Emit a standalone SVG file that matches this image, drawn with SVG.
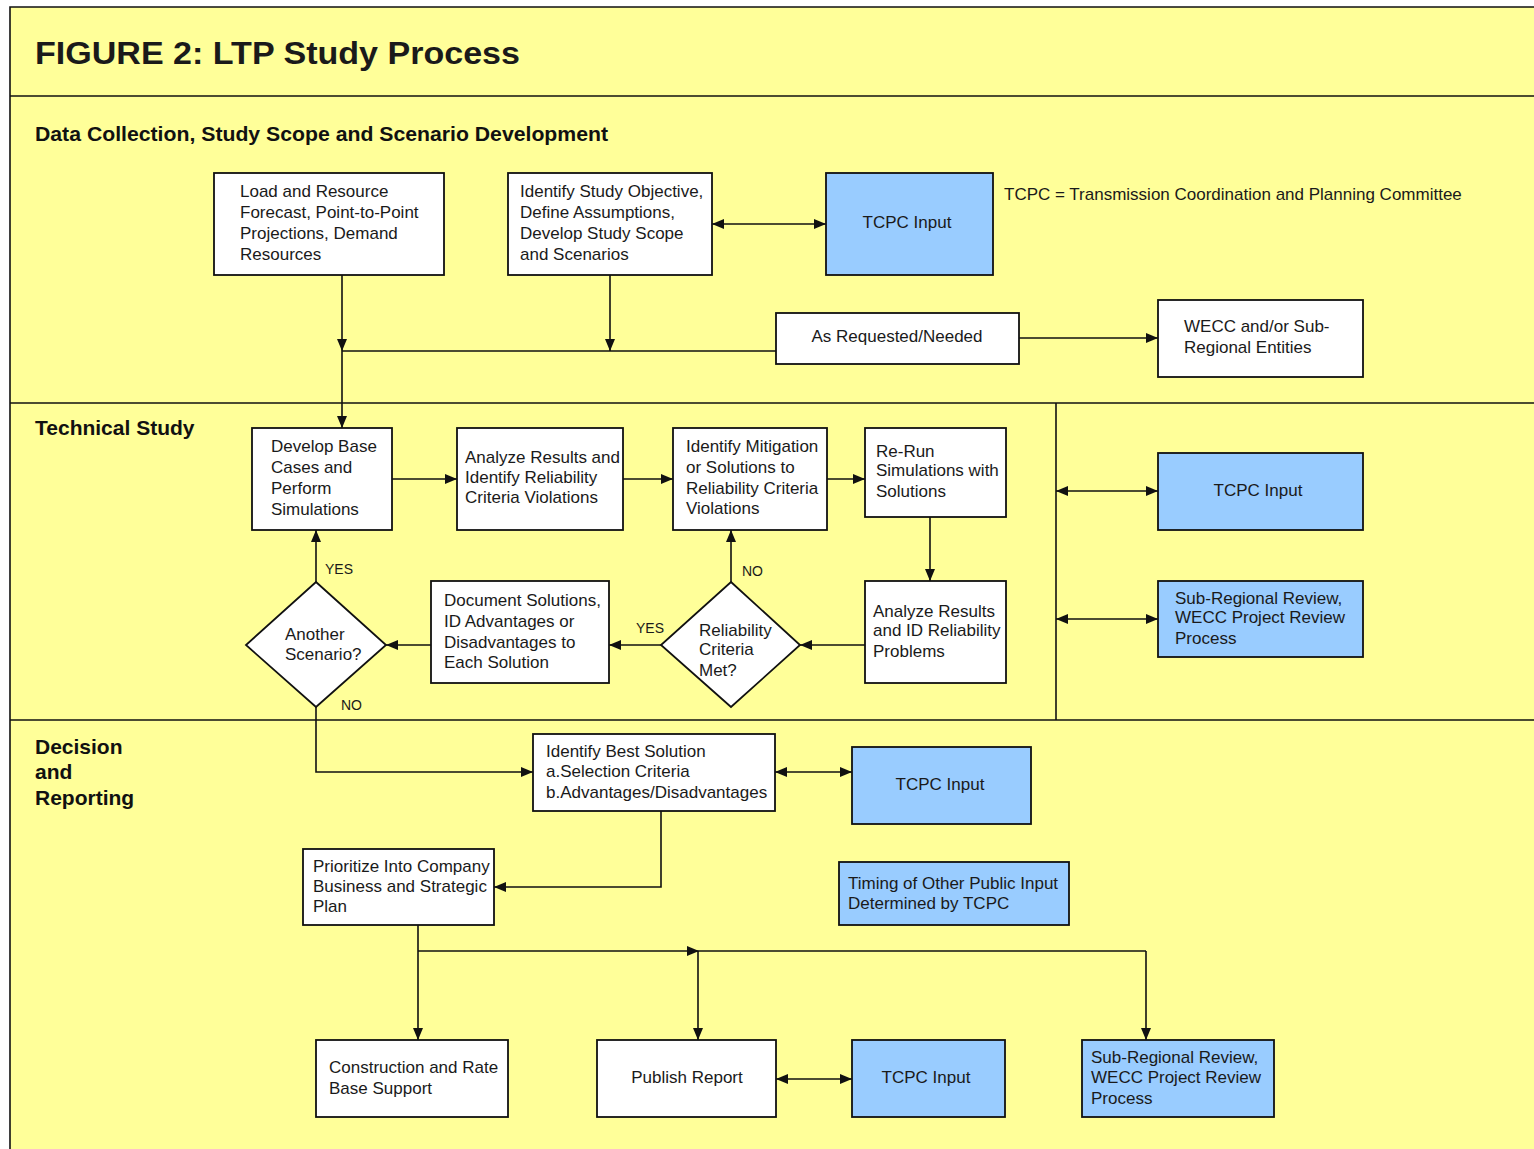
<svg xmlns="http://www.w3.org/2000/svg" width="1534" height="1149" viewBox="0 0 1534 1149">
<style>
  text { font-family: "Liberation Sans", Arial, sans-serif; fill: #1a1a1a; }
  .t { font-size: 17px; }
  .tc { font-size: 17px; text-anchor: middle; }
  .h { font-size: 21px; font-weight: bold; fill: #111; }
  .lab { font-size: 14px; }
  .box { fill: #ffffff; stroke: #111; stroke-width: 1.8; }
  .blue { fill: #99ccff; stroke: #111; stroke-width: 1.8; }
  .frame { fill: none; stroke: #111; stroke-width: 1.6; }
  .c { fill: none; stroke: #111; stroke-width: 1.6; }
  .a { marker-end: url(#arr); }
  .d { marker-start: url(#arr); marker-end: url(#arr); }
</style>
<defs>
  <marker id="arr" viewBox="0 0 12 10" refX="12" refY="5" markerWidth="12" markerHeight="10" markerUnits="userSpaceOnUse" orient="auto-start-reverse">
    <path d="M0,0 L12,5 L0,10 z" fill="#111"/>
  </marker>
</defs>
<rect x="0" y="0" width="1534" height="1149" fill="#ffffff"/>
<rect x="10" y="7" width="1530" height="1150" fill="#ffff99"/>
<g id="frame">
  <path class="frame" d="M10,1149 V7 H1534"/>
  <line class="frame" x1="10" y1="96" x2="1534" y2="96"/>
  <line class="frame" x1="10" y1="403" x2="1534" y2="403"/>
  <line class="frame" x1="10" y1="720" x2="1534" y2="720"/>
  <line class="frame" x1="1056" y1="403" x2="1056" y2="720"/>
</g>
<g id="headings">
  <text x="35" y="64" font-size="31" font-weight="bold" fill="#111" textLength="485" lengthAdjust="spacingAndGlyphs">FIGURE 2: LTP Study Process</text>
  <text class="h" x="35" y="141" textLength="573" lengthAdjust="spacingAndGlyphs">Data Collection, Study Scope and Scenario Development</text>
  <text class="h" x="35" y="435">Technical Study</text>
  <text class="h" x="35" y="754">Decision</text>
  <text class="h" x="35" y="779">and</text>
  <text class="h" x="35" y="805">Reporting</text>
  <text class="t" x="1004" y="200">TCPC = Transmission Coordination and Planning Committee</text>
</g>
<g id="connectors">
  <path class="c a" d="M342,275 V351"/>
  <path class="c a" d="M342,351 V428"/>
  <path class="c a" d="M610,275 V351"/>
  <path class="c" d="M342,351 H776"/>
  <path class="c d" d="M712,224 H826"/>
  <path class="c a" d="M1019,338 H1158"/>
  <path class="c a" d="M392,479 H457"/>
  <path class="c a" d="M623,479 H673"/>
  <path class="c a" d="M827,479 H865"/>
  <path class="c a" d="M930,517 V581"/>
  <path class="c a" d="M865,645 H800"/>
  <path class="c a" d="M661,645 H609"/>
  <path class="c a" d="M731,582 V530"/>
  <path class="c a" d="M431,645 H386"/>
  <path class="c a" d="M316,582 V530"/>
  <path class="c a" d="M316,707 V772 H533"/>
  <path class="c d" d="M1056,491 H1158"/>
  <path class="c d" d="M1056,619 H1158"/>
  <path class="c d" d="M775,772 H852"/>
  <path class="c a" d="M661,811 V887 H494"/>
  <path class="c a" d="M418,925 V1040"/>
  <path class="c" d="M418,951 H1146"/>
  <polygon points="687,946 699,951 687,956" fill="#111"/>
  <path class="c a" d="M698,951 V1040"/>
  <path class="c a" d="M1146,951 V1040"/>
  <path class="c d" d="M776,1079 H852"/>
  <text class="lab" x="325" y="574">YES</text>
  <text class="lab" x="742" y="576">NO</text>
  <text class="lab" x="636" y="633">YES</text>
  <text class="lab" x="341" y="710">NO</text>
</g>
<g id="n-load">
  <rect class="box" x="214" y="173" width="230" height="102"/>
  <text class="t" x="240" y="197">Load and Resource</text>
  <text class="t" x="240" y="218">Forecast, Point-to-Point</text>
  <text class="t" x="240" y="239">Projections, Demand</text>
  <text class="t" x="240" y="260">Resources</text>
</g>
<g id="n-objective">
  <rect class="box" x="508" y="173" width="204" height="102"/>
  <text class="t" x="520" y="197">Identify Study Objective,</text>
  <text class="t" x="520" y="218">Define Assumptions,</text>
  <text class="t" x="520" y="239">Develop Study Scope</text>
  <text class="t" x="520" y="260">and Scenarios</text>
</g>
<g id="n-tcpc1">
  <rect class="blue" x="826" y="173" width="167" height="102"/>
  <text class="tc" x="907" y="228">TCPC Input</text>
</g>
<g id="n-requested">
  <rect class="box" x="776" y="313" width="243" height="51"/>
  <text class="tc" x="897" y="342">As Requested/Needed</text>
</g>
<g id="n-wecc">
  <rect class="box" x="1158" y="300" width="205" height="77"/>
  <text class="t" x="1184" y="332">WECC and/or Sub-</text>
  <text class="t" x="1184" y="353">Regional Entities</text>
</g>
<g id="n-base">
  <rect class="box" x="252" y="428" width="140" height="102"/>
  <text class="t" x="271" y="452">Develop Base</text>
  <text class="t" x="271" y="473">Cases and</text>
  <text class="t" x="271" y="494">Perform</text>
  <text class="t" x="271" y="515">Simulations</text>
</g>
<g id="n-analyze1">
  <rect class="box" x="457" y="428" width="166" height="102"/>
  <text class="t" x="465" y="463">Analyze Results and</text>
  <text class="t" x="465" y="483">Identify Reliability</text>
  <text class="t" x="465" y="503">Criteria Violations</text>
</g>
<g id="n-mitigation">
  <rect class="box" x="673" y="428" width="154" height="102"/>
  <text class="t" x="686" y="452">Identify Mitigation</text>
  <text class="t" x="686" y="473">or Solutions to</text>
  <text class="t" x="686" y="494">Reliability Criteria</text>
  <text class="t" x="686" y="514">Violations</text>
</g>
<g id="n-rerun">
  <rect class="box" x="865" y="428" width="141" height="89"/>
  <text class="t" x="876" y="457">Re-Run</text>
  <text class="t" x="876" y="476">Simulations with</text>
  <text class="t" x="876" y="497">Solutions</text>
</g>
<g id="n-analyze2">
  <rect class="box" x="865" y="581" width="141" height="102"/>
  <text class="t" x="873" y="617">Analyze Results</text>
  <text class="t" x="873" y="636">and ID Reliability</text>
  <text class="t" x="873" y="657">Problems</text>
</g>
<g id="n-met">
  <polygon class="box" points="731,582 800,645 731,707 661,645"/>
  <text class="t" x="699" y="636">Reliability</text>
  <text class="t" x="699" y="655">Criteria</text>
  <text class="t" x="699" y="676">Met?</text>
</g>
<g id="n-document">
  <rect class="box" x="431" y="581" width="178" height="102"/>
  <text class="t" x="444" y="606">Document Solutions,</text>
  <text class="t" x="444" y="627">ID Advantages or</text>
  <text class="t" x="444" y="648">Disadvantages to</text>
  <text class="t" x="444" y="668">Each Solution</text>
</g>
<g id="n-another">
  <polygon class="box" points="316,582 386,645 316,707 246,645"/>
  <text class="t" x="285" y="640">Another</text>
  <text class="t" x="285" y="660">Scenario?</text>
</g>
<g id="n-tcpc2">
  <rect class="blue" x="1158" y="453" width="205" height="77"/>
  <text class="tc" x="1258" y="496">TCPC Input</text>
</g>
<g id="n-subreg1">
  <rect class="blue" x="1158" y="581" width="205" height="76"/>
  <text class="t" x="1175" y="604">Sub-Regional Review,</text>
  <text class="t" x="1175" y="623">WECC Project Review</text>
  <text class="t" x="1175" y="644">Process</text>
</g>
<g id="n-best">
  <rect class="box" x="533" y="734" width="242" height="77"/>
  <text class="t" x="546" y="757">Identify Best Solution</text>
  <text class="t" x="546" y="777">a.Selection Criteria</text>
  <text class="t" x="546" y="798">b.Advantages/Disadvantages</text>
</g>
<g id="n-tcpc3">
  <rect class="blue" x="852" y="747" width="179" height="77"/>
  <text class="tc" x="940" y="790">TCPC Input</text>
</g>
<g id="n-timing">
  <rect class="blue" x="839" y="862" width="230" height="63"/>
  <text class="t" x="848" y="889">Timing of Other Public Input</text>
  <text class="t" x="848" y="909">Determined by TCPC</text>
</g>
<g id="n-prioritize">
  <rect class="box" x="303" y="849" width="191" height="76"/>
  <text class="t" x="313" y="872">Prioritize Into Company</text>
  <text class="t" x="313" y="892">Business and Strategic</text>
  <text class="t" x="313" y="912">Plan</text>
</g>
<g id="n-construction">
  <rect class="box" x="316" y="1040" width="192" height="77"/>
  <text class="t" x="329" y="1073">Construction and Rate</text>
  <text class="t" x="329" y="1094">Base Support</text>
</g>
<g id="n-publish">
  <rect class="box" x="597" y="1040" width="179" height="77"/>
  <text class="tc" x="687" y="1083">Publish Report</text>
</g>
<g id="n-tcpc4">
  <rect class="blue" x="852" y="1040" width="153" height="77"/>
  <text class="tc" x="926" y="1083">TCPC Input</text>
</g>
<g id="n-subreg2">
  <rect class="blue" x="1082" y="1040" width="192" height="77"/>
  <text class="t" x="1091" y="1063">Sub-Regional Review,</text>
  <text class="t" x="1091" y="1083">WECC Project Review</text>
  <text class="t" x="1091" y="1104">Process</text>
</g>
</svg>
